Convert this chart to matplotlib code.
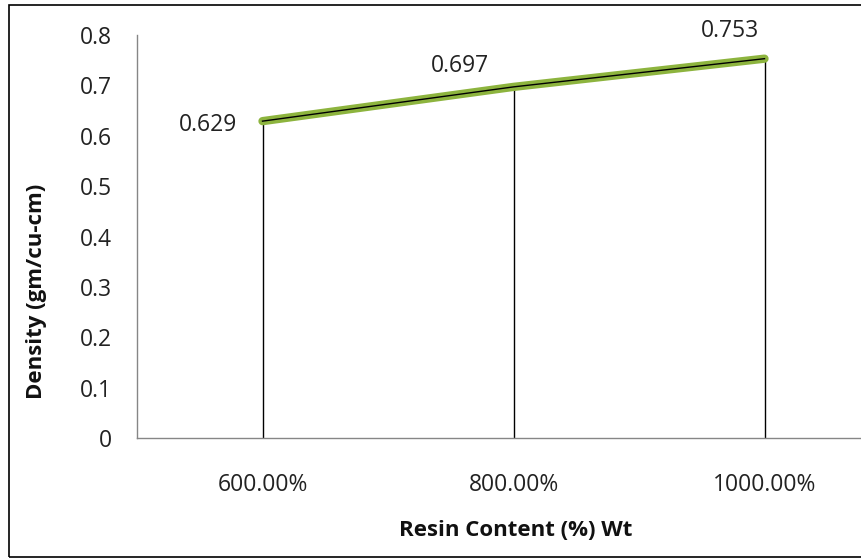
import matplotlib
matplotlib.use("Agg")
import matplotlib.pyplot as plt
from matplotlib.patches import Rectangle

categories = ["600.00%", "800.00%", "1000.00%"]
density = [0.629, 0.697, 0.753]
label_texts = ["0.629", "0.697", "0.753"]
yticks = [0, 0.1, 0.2, 0.3, 0.4, 0.5, 0.6, 0.7, 0.8]

plt.rcParams['font.family'] = ['Open Sans', 'DejaVu Sans']

W, H = 862, 558
fig = plt.figure(figsize=(W / 100, H / 100), dpi=100)

# outer chart border
fig.patches.append(Rectangle((9 / W, 1 - 557 / H), 2.0, (557 - 5) / H,
                             transform=fig.transFigure, fill=False,
                             edgecolor='#000000', linewidth=1.2))

left, right, top, bottom = 137, 890, 35, 438
ax = fig.add_axes([left / W, 1 - bottom / H, (right - left) / W, (bottom - top) / H])

x = list(range(len(categories)))
ax.plot(x, density, color='#8db43e', linewidth=6, solid_capstyle='round', zorder=3)
ax.plot(x, density, color='#000000', linewidth=1.0, zorder=4)
ax.vlines(x, 0, density, color='#000000', linewidth=1.0, zorder=2)

offsets = [(-54, -4), (-54, 21), (-35, 28)]
for xi, yi, t, off in zip(x, density, label_texts, offsets):
    ax.annotate(t, (xi, yi), xytext=off, textcoords='offset pixels',
                ha='center', va='center', fontsize=16.5, color='#222222')

ax.set_xlim(-0.5, 2.5)
ax.set_ylim(0, 0.8)
ax.set_yticks(yticks)
ax.set_yticklabels([f"{v:g}" for v in yticks], fontsize=16.5, color='#222222')
ax.set_xticks(x)
ax.set_xticklabels(categories, fontsize=16.5, color='#222222')
ax.tick_params(axis='both', length=0)
ax.tick_params(axis='y', pad=18)
ax.tick_params(axis='x', pad=25)
for s in ['top', 'right']:
    ax.spines[s].set_visible(False)
for s in ['left', 'bottom']:
    ax.spines[s].set_color('#868686')
    ax.spines[s].set_linewidth(1.0)

fig.text(37 / W, 1 - 291 / H, "Density (gm/cu-cm)", rotation=90, ha='center', va='center',
         fontsize=16, fontweight='bold', color='#111111')
fig.text(516 / W, 1 - 530 / H, "Resin Content (%) Wt", ha='center', va='center',
         fontsize=16, fontweight='bold', color='#111111')

fig.savefig("out.png", dpi=100)
